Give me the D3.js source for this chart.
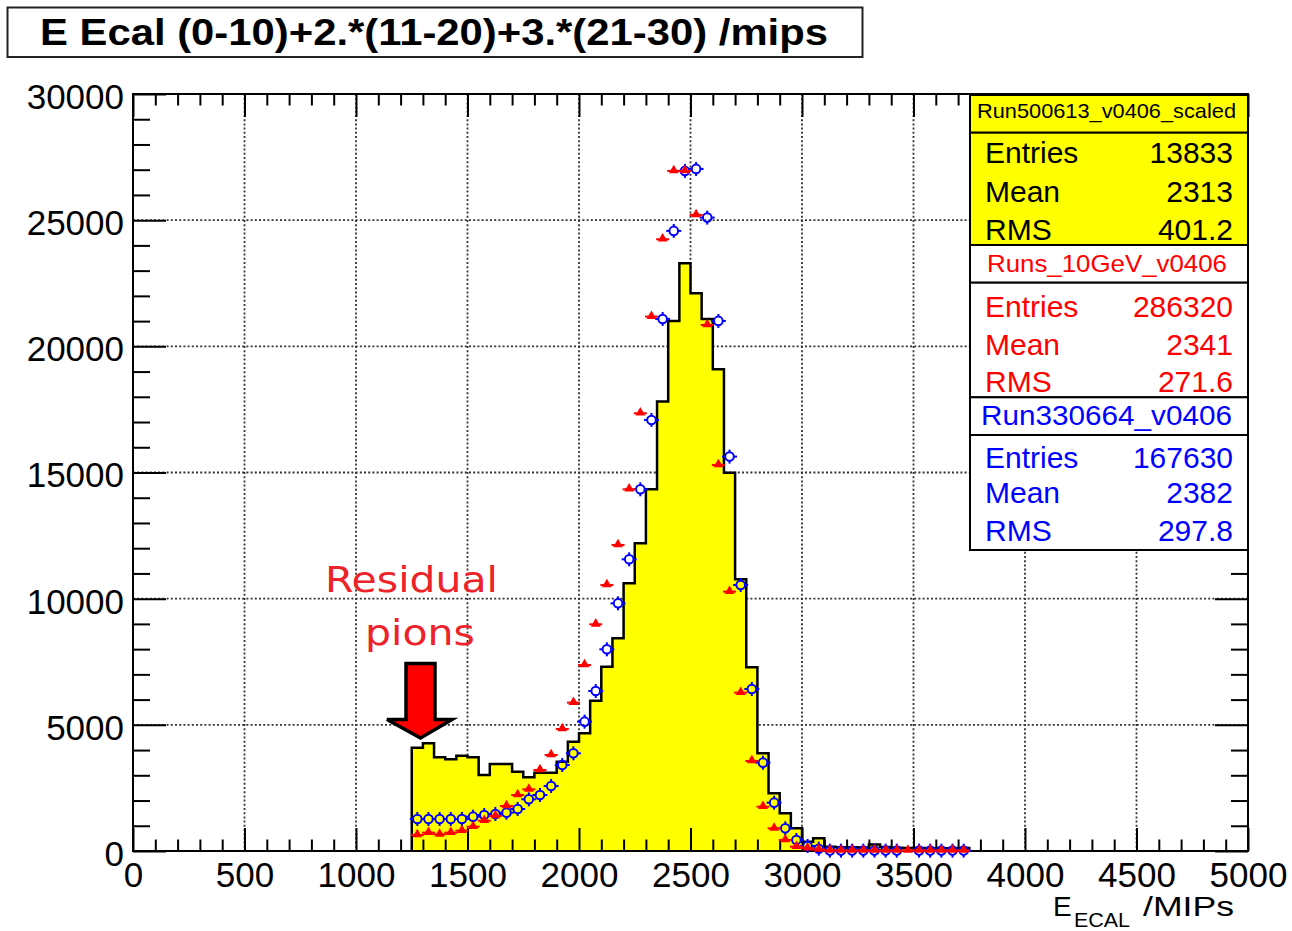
<!DOCTYPE html>
<html><head><meta charset="utf-8">
<script src="https://cdn.jsdelivr.net/npm/d3@7"></script>
<style>body{margin:0;background:#fff}</style>
</head><body>
<svg id="c" width="1292" height="931"></svg>
<script>
// ---------------- DATA ----------------
const titleText = "E Ecal (0-10)+2.*(11-20)+3.*(21-30) /mips";
const xTitleMain = "E", xTitleSub = "ECAL", xTitleUnit = "/MIPs";
const xMajorTicks = [0,500,1000,1500,2000,2500,3000,3500,4000,4500,5000];
const yMajorTicks = [0,5000,10000,15000,20000,25000,30000];
const binWidth = 50;
const binLowEdges = [1250,1300,1350,1400,1450,1500,1550,1600,1650,1700,1750,1800,1850,1900,1950,2000,2050,2100,2150,2200,2250,2300,2350,2400,2450,2500,2550,2600,2650,2700,2750,2800,2850,2900,2950,3000,3050,3100,3150,3200,3250,3300,3350,3400,3450,3500,3550,3600,3650,3700];
// Run500613_v0406_scaled (yellow histogram)
const yellowCounts = [4096,4267,3713,3633,3779,3713,3012,3448,3448,3144,2920,3105,3105,3541,4333,4664,5958,7306,8429,10609,12194,14335,17809,21007,23292,22104,21086,19091,14995,10768,7280,3871,2286,1493,898,370,502,172,150,150,140,260,160,130,120,120,110,110,100,120];
// Runs_10GeV_v0406 (red points, at bin centres)
const redCounts = [634,727,661,727,806,964,1202,1387,1784,2220,2444,3210,3805,4835,5879,7372,8984,10543,12128,14335,17347,21178,24244,26952,26952,25208,20848,15299,10279,6276,3567,1757,898,436,172,110,60,20,20,20,20,20,20,20,20,20,20,20,20,20];
// Run330664_v0406 (blue points, at bin centres)
const blueCounts = [1268,1268,1268,1268,1268,1361,1427,1466,1519,1665,2048,2220,2576,3409,3871,5126,6342,7993,9816,11560,14335,17083,21086,24574,26952,27031,25102,21007,15630,10543,6421,3501,1916,898,436,198,92,15,15,15,15,15,15,15,null,15,15,15,15,15];
// statistics boxes
const statNames = ["Run500613_v0406_scaled","Runs_10GeV_v0406","Run330664_v0406"];
const statEntries = ["13833","286320","167630"];
const statMean = ["2313","2341","2382"];
const statRMS = ["401.2","271.6","297.8"];
const annotationLines = ["Residual","pions"];

// ---------------- DRAW ----------------
const svg = d3.select("#c");
const FONT = "'Liberation Sans', Arial, Helvetica, sans-serif";
const x = d3.scaleLinear().domain([0,5000]).range([133,1248]);
const y = d3.scaleLinear().domain([0,30000]).range([851,94]);

svg.append("rect").attr("width",1292).attr("height",931).attr("fill","#fff");

// title box
svg.append("rect").attr("x",7.5).attr("y",7.5).attr("width",855).attr("height",49.5)
  .attr("fill","#fff").attr("stroke","#222").attr("stroke-width",2);
svg.append("text").attr("x",40).attr("y",45).attr("font-family",FONT).attr("font-weight","bold")
  .attr("font-size",37).attr("textLength",788).attr("lengthAdjust","spacingAndGlyphs").text(titleText);

// grid
const grid = svg.append("g").attr("stroke","#333").attr("stroke-width",1.8).attr("stroke-dasharray","2,2.2");
grid.selectAll(".gx").data(xMajorTicks.slice(1,-1)).join("line")
  .attr("x1",d=>x(d)).attr("x2",d=>x(d)).attr("y1",y(30000)).attr("y2",y(0));
grid.selectAll(".gy").data(yMajorTicks.slice(1,-1)).join("line")
  .attr("y1",d=>y(d)).attr("y2",d=>y(d)).attr("x1",x(0)).attr("x2",x(5000));

// histogram
const pts = binLowEdges.map((b,i)=>({e:b,v:yellowCounts[i]}));
const lastEdge = binLowEdges[binLowEdges.length-1]+binWidth;
pts.push({e:lastEdge, v:yellowCounts[yellowCounts.length-1]});
const area = d3.area().curve(d3.curveStepAfter).x(d=>x(d.e)).y0(y(0)).y1(d=>y(d.v));
svg.append("path").datum(pts).attr("d",area).attr("fill","#ffff00");
const outline = [{e:binLowEdges[0],v:0}, ...pts, {e:lastEdge,v:0}];
const line = d3.line().curve(d3.curveStepAfter).x(d=>x(d.e)).y(d=>y(d.v));
svg.append("path").datum(outline).attr("d",line).attr("fill","none").attr("stroke","#000").attr("stroke-width",2.5);

// axes ticks
function styleAxis(g, sw){
  g.select(".domain").remove();
  g.selectAll("line").attr("stroke","#000").attr("stroke-width",sw);
  g.attr("font-family",FONT).attr("font-size",35);
  g.selectAll("text").attr("fill","#000");
}
const xMinor = d3.range(0,5001,100).filter(v=>v%500!==0);
const yMinor = d3.range(0,30001,1000).filter(v=>v%5000!==0);

svg.append("g").attr("transform","translate(0,851)")
  .call(d3.axisBottom(x).tickValues(xMajorTicks).tickSize(-23).tickSizeOuter(0).tickPadding(11).tickFormat(d3.format("d")))
  .call(g=>styleAxis(g,2));
svg.append("g").attr("transform","translate(0,851)")
  .call(d3.axisBottom(x).tickValues(xMinor).tickSize(-11.5).tickSizeOuter(0).tickFormat(""))
  .call(g=>styleAxis(g,2));
svg.append("g").attr("transform","translate(0,94)")
  .call(d3.axisTop(x).tickValues(xMajorTicks).tickSize(-23).tickSizeOuter(0).tickFormat(""))
  .call(g=>styleAxis(g,2));
svg.append("g").attr("transform","translate(0,94)")
  .call(d3.axisTop(x).tickValues(xMinor).tickSize(-11.5).tickSizeOuter(0).tickFormat(""))
  .call(g=>styleAxis(g,2));
svg.append("g").attr("transform","translate(133,0)")
  .call(d3.axisLeft(y).tickValues(yMajorTicks).tickSize(-33).tickSizeOuter(0).tickPadding(9).tickFormat(d3.format("d")))
  .call(g=>{styleAxis(g,2); g.selectAll("text").attr("dy","0.41em");});
svg.append("g").attr("transform","translate(133,0)")
  .call(d3.axisLeft(y).tickValues(yMinor).tickSize(-17).tickSizeOuter(0).tickFormat(""))
  .call(g=>styleAxis(g,2));
svg.append("g").attr("transform","translate(1248,0)")
  .call(d3.axisRight(y).tickValues(yMajorTicks).tickSize(-33).tickSizeOuter(0).tickFormat(""))
  .call(g=>styleAxis(g,2));
svg.append("g").attr("transform","translate(1248,0)")
  .call(d3.axisRight(y).tickValues(yMinor).tickSize(-17).tickSizeOuter(0).tickFormat(""))
  .call(g=>styleAxis(g,2));

// frame
svg.append("rect").attr("x",x(0)).attr("y",y(30000)).attr("width",x(5000)-x(0)).attr("height",y(0)-y(30000))
  .attr("fill","none").attr("stroke","#000").attr("stroke-width",2);

// markers
const centers = binLowEdges.map(b=>b+binWidth/2);
const blueG = svg.append("g");
centers.forEach((c,i)=>{
  const v = blueCounts[i]; if(v==null) return;
  const cx = x(c), cy = y(v);
  const g = blueG.append("g").attr("stroke","#0000ff").attr("stroke-width",2);
  g.append("line").attr("x1",cx-7.5).attr("x2",cx-4.5).attr("y1",cy).attr("y2",cy);
  g.append("line").attr("x1",cx+4.5).attr("x2",cx+7.5).attr("y1",cy).attr("y2",cy);
  g.append("line").attr("x1",cx).attr("x2",cx).attr("y1",cy-7).attr("y2",cy-4.5);
  g.append("line").attr("x1",cx).attr("x2",cx).attr("y1",cy+4.5).attr("y2",cy+7);
  g.append("circle").attr("cx",cx).attr("cy",cy).attr("r",4.3).attr("fill","none");
});
const redG = svg.append("g");
const tri = d3.symbol().type(d3.symbolTriangle).size(42);
centers.forEach((c,i)=>{
  const v = redCounts[i]; if(v==null) return;
  const cx = x(c), cy = y(v);
  redG.append("line").attr("x1",cx-6.5).attr("x2",cx+6.5).attr("y1",cy).attr("y2",cy)
    .attr("stroke","#ff0000").attr("stroke-width",2);
  redG.append("path").attr("d",tri()).attr("transform",`translate(${cx},${cy-0.5})`).attr("fill","#ff0000");
});

// stats box
const bx0 = 970, bx1 = 1248;
const sb = svg.append("g").attr("font-family",FONT);
const sections = [
  {top:95, bot:132.7, fill:"#ffff00"},{top:132.7, bot:245, fill:"#ffff00"},
  {top:245, bot:282.7, fill:"#fff"},{top:282.7, bot:397.3, fill:"#fff"},
  {top:397.3, bot:435, fill:"#fff"},{top:435, bot:550, fill:"#fff"}];
sections.forEach(s=>{
  sb.append("rect").attr("x",bx0).attr("y",s.top).attr("width",bx1-bx0).attr("height",s.bot-s.top)
    .attr("fill",s.fill).attr("stroke","#000").attr("stroke-width",2);
});
const colors = ["#000","#ff0000","#0000ff"];
// headers
sb.append("text").attr("x",977).attr("y",118.3).attr("font-size",21).attr("fill",colors[0])
  .attr("textLength",259).attr("lengthAdjust","spacingAndGlyphs").text(statNames[0]);
sb.append("text").attr("x",987).attr("y",271.7).attr("font-size",24).attr("fill",colors[1])
  .attr("textLength",240).attr("lengthAdjust","spacingAndGlyphs").text(statNames[1]);
sb.append("text").attr("x",981).attr("y",425).attr("font-size",28).attr("fill",colors[2])
  .attr("textLength",251).attr("lengthAdjust","spacingAndGlyphs").text(statNames[2]);
const rowBase = [[163.3,201.7,240],[316.7,355,391.7],[468.3,503.3,540.7]];
const rowLabels = ["Entries","Mean","RMS"];
[0,1,2].forEach(k=>{
  const vals = [statEntries[k], statMean[k], statRMS[k]];
  rowLabels.forEach((lab,j)=>{
    sb.append("text").attr("x",985).attr("y",rowBase[k][j]).attr("font-size",30).attr("fill",colors[k]).text(lab);
    sb.append("text").attr("x",1233).attr("y",rowBase[k][j]).attr("font-size",30).attr("fill",colors[k])
      .attr("text-anchor","end").text(vals[j]);
  });
});

// x-axis title
const xt = svg.append("g").attr("font-family",FONT).attr("fill","#000");
xt.append("text").attr("x",1053).attr("y",916).attr("font-size",28).text(xTitleMain);
xt.append("text").attr("x",1074).attr("y",927).attr("font-size",20)
  .attr("textLength",56).attr("lengthAdjust","spacingAndGlyphs").text(xTitleSub);
xt.append("text").attr("x",1143).attr("y",916).attr("font-size",28)
  .attr("textLength",91).attr("lengthAdjust","spacingAndGlyphs").text(xTitleUnit);

// annotation
const an = svg.append("g").attr("font-family","'DejaVu Sans', Verdana, sans-serif").attr("fill","#ee2229").attr("font-size",35);
an.append("text").attr("x",325).attr("y",592).attr("textLength",173).attr("lengthAdjust","spacingAndGlyphs").text(annotationLines[0]);
an.append("text").attr("x",365).attr("y",645).attr("textLength",110).attr("lengthAdjust","spacingAndGlyphs").text(annotationLines[1]);
svg.append("polygon")
  .attr("points","406,663.5 435,663.5 435,719.5 452,719.5 420.5,738 387,719.5 406,719.5")
  .attr("fill","#ff0000").attr("stroke","#000").attr("stroke-width",3.5).attr("stroke-linejoin","miter");
</script>
</body></html>
